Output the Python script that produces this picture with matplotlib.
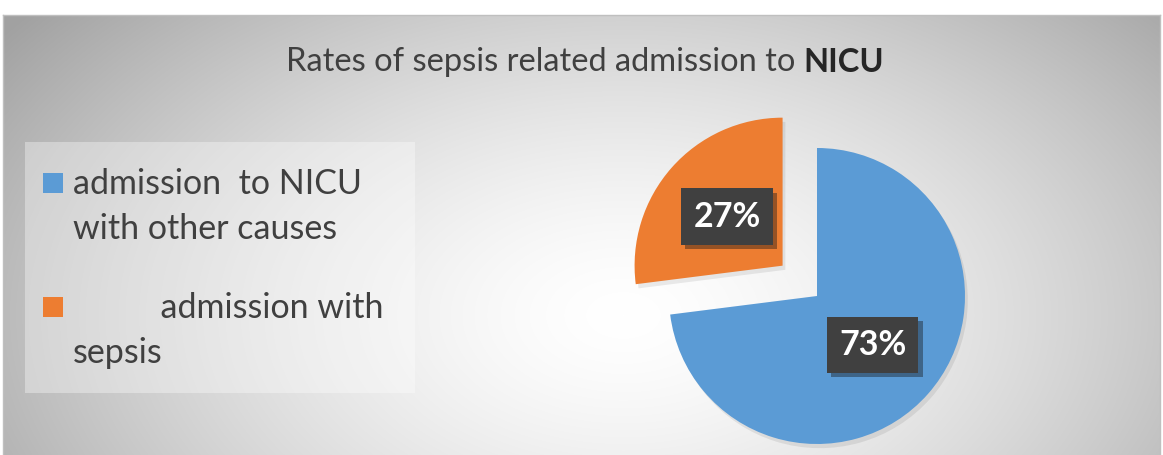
import numpy as np
import matplotlib
matplotlib.use("Agg")
import matplotlib.pyplot as plt
from matplotlib.patches import Rectangle
import matplotlib.patheffects as pe

plt.rcParams['font.family'] = ['Lato', 'DejaVu Sans']

# data
labels = ['admission  to NICU\nwith other causes', '          admission with\nsepsis']
values = [73, 27]
colors = ['#5B9BD5', '#ED7D31']
explode = [0, 0.31]

W, H = 1163, 455
fig = plt.figure(figsize=(W / 100, H / 100), dpi=100)
fig.patch.set_facecolor('white')

# background of chart area (radial gradient)
top_px = 15
bg = fig.add_axes([3 / W, 0, 1 - 6 / W, 1 - top_px / H])
yy, xx = np.mgrid[0:H - top_px, 0:W - 6]
d = np.sqrt(((xx - 620) / 640.0) ** 2 + ((yy - 300) / 400.0) ** 2)
shade = 1 - 0.28 * np.clip(d, 0, 1.2) ** 1.5
img = np.dstack([shade, shade, shade])
bg.imshow(img, aspect='auto', extent=[0, 1, 0, 1], origin='upper')
bg.set_xlim(0, 1)
bg.set_ylim(0, 1)
for s in bg.spines.values():
    s.set_color('#bfbfbf')
    s.set_linewidth(1)
bg.spines['bottom'].set_visible(False)
bg.set_xticks([])
bg.set_yticks([])

# title with bold NICU
t = fig.text(286 / W, 1 - 71 / H, 'Rates of sepsis related admission to ',
             fontsize=23.5, color='#404040', va='baseline', ha='left')
bg.annotate('NICU', xy=(1, 0), xycoords=t, va='bottom', ha='left',
            fontsize=23.5, color='#262626', fontweight='bold')

# legend box
fig.patches.append(Rectangle((25 / W, 1 - 393 / H), 390 / W, 251 / H,
                             transform=fig.transFigure, facecolor='white',
                             alpha=0.35, edgecolor='none', zorder=1))
leg_y = [194, 318]
line_gap = 45
for lab, col, y in zip(labels, colors, leg_y):
    fig.patches.append(Rectangle((43 / W, 1 - (y - 1) / H), 20 / W, 20 / H,
                                 transform=fig.transFigure, facecolor=col,
                                 edgecolor='none', zorder=3))
    for i, line in enumerate(lab.split('\n')):
        fig.text(73 / W, 1 - (y + i * line_gap) / H, line, fontsize=24.5,
                 color='#404040', va='baseline', ha='left', zorder=3)

# pie
R = 148
cx, cy = 817, 296
half = 200
ax = fig.add_axes([(cx - half) / W, (H - cy - half) / H, 2 * half / W, 2 * half / H])
wedges, texts, autotexts = ax.pie(values, colors=colors, explode=explode,
                                  startangle=90, counterclock=False,
                                  autopct='%1.0f%%', pctdistance=0.5,
                                  textprops=dict(color='white', fontsize=24.5,
                                                 fontweight='bold'))
for w in wedges:
    w.set_path_effects([pe.SimplePatchShadow(offset=(2, -3), alpha=0.08, shadow_rgbFace='black'),
                        pe.Normal()])
for at in autotexts:
    at.set_bbox(dict(boxstyle='square,pad=0.36', facecolor='#404040', edgecolor='none'))
    at.get_bbox_patch().set_path_effects([pe.SimplePatchShadow(offset=(3, -3), alpha=0.4),
                                          pe.Normal()])
lim = half / R
ax.set_xlim(-lim, lim)
ax.set_ylim(-lim, lim)
ax.axis('off')

fig.savefig('out.png', dpi=100)
